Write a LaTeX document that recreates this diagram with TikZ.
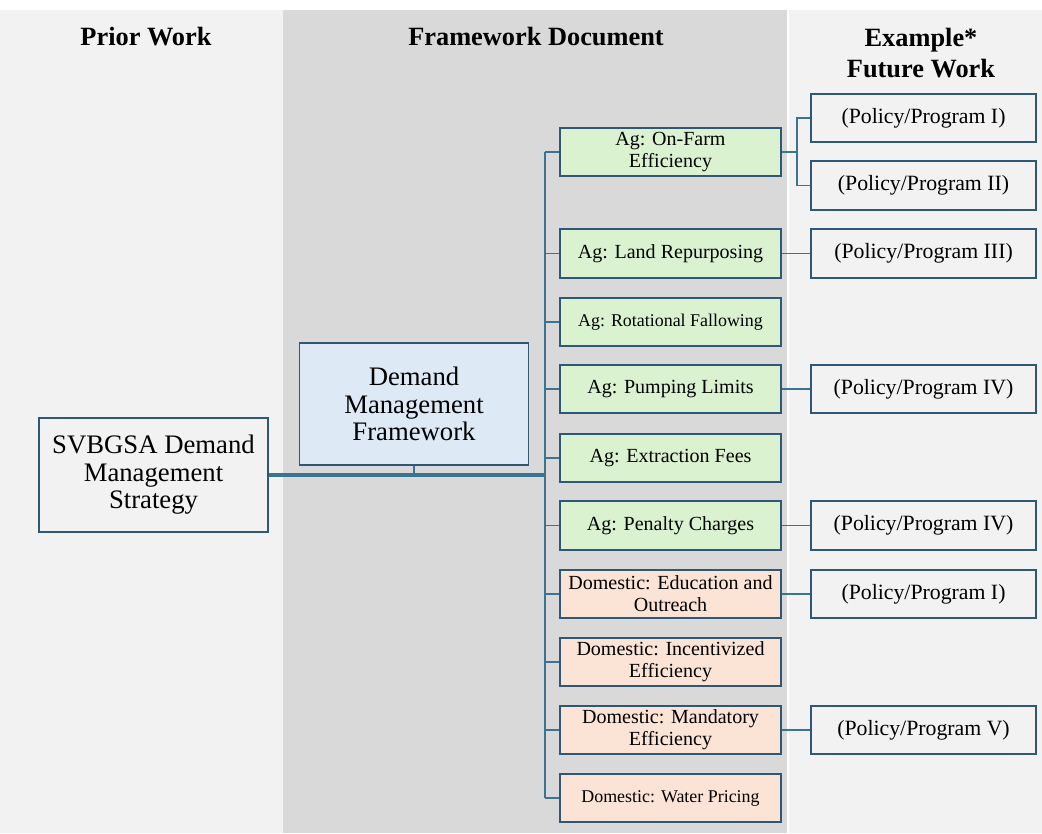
\documentclass[tikz,border=0pt]{standalone}
\usepackage{fontspec}
\setmainfont{Liberation Serif}
\usetikzlibrary{positioning}

\definecolor{panelgray}{HTML}{F2F2F2}
\definecolor{midgray}{HTML}{D9D9D9}
\definecolor{boxline}{HTML}{2F5878}
\definecolor{linkblue}{HTML}{3B7393}
\definecolor{agfill}{HTML}{DAF2D0}
\definecolor{domfill}{HTML}{FBE3D6}
\definecolor{frameblue}{HTML}{DDEAF6}

\tikzset{
  box/.style={draw=boxline, line width=1pt, align=center, inner sep=0pt,
    font=\fontsize{11.4}{12.4}\selectfont},
  agbox/.style={box, fill=agfill, minimum width=4.42cm, minimum height=0.97cm},
  dombox/.style={box, fill=domfill, minimum width=4.42cm, minimum height=0.97cm},
  polbox/.style={box, fill=panelgray, minimum width=4.5cm, minimum height=0.97cm,
    font=\fontsize{12.4}{13}\selectfont},
  bigbox/.style={box, minimum width=4.58cm, font=\fontsize{15.2}{15.6}\selectfont},
  head/.style={align=center, font=\bfseries\fontsize{15}{17.6}\selectfont},
  link/.style={draw=linkblue, line width=1.1pt},
  small/.style={font=\fontsize{10.2}{11}\selectfont}
}

\begin{document}
\begin{tikzpicture}[x=0.02cm, y=-0.02cm]
  \useasboundingbox (0,0) rectangle (1042,833);
  % panels
  \fill [white] (0,0) rectangle (1042,833);
  \fill [panelgray] (0,10) rectangle (283,833);
  \fill [midgray] (283,10) rectangle (788,833);
  \fill [panelgray] (788,10) rectangle (1042,833);
  \draw [white, line width=0.6pt] (788,10) -- (788,833);

  \node [head] (hprior) at (146,37) {Prior Work};
  \node [head] (hframe) at (536,37) {Framework Document};
  \node [head] (hfuture) at (921,53) {Example*\\Future Work};

  % left and centre
  \node [bigbox, fill=panelgray, minimum height=2.28cm] (svb) at (153.5,475) {SVBGSA Demand\\Management\\Strategy};
  \node [bigbox, fill=frameblue, minimum height=2.44cm] (dmf) at (414,404) {Demand\\Management\\Framework};

  % framework options
  \node [agbox] (onfarm) at (670.5,152) {Ag: On-Farm\\Efficiency};
  \node [agbox] (land) at (670.5,253.5) {Ag: Land Repurposing};
  \node [agbox, small] (fallow) at (670.5,322) {Ag: Rotational Fallowing};
  \node [agbox] (pump) at (670.5,389) {Ag: Pumping Limits};
  \node [agbox] (fees) at (670.5,458) {Ag: Extraction Fees};
  \node [agbox] (penalty) at (670.5,525.5) {Ag: Penalty Charges};
  \node [dombox] (educ) at (670.5,594) {Domestic: Education and\\Outreach};
  \node [dombox] (incent) at (670.5,662) {Domestic: Incentivized\\Efficiency};
  \node [dombox] (mandat) at (670.5,730) {Domestic: Mandatory\\Efficiency};
  \node [dombox, small] (pricing) at (670.5,798) {Domestic: Water Pricing};

  % future work
  \node [polbox] (polA) at (923.5,118) {(Policy/Program I)};
  \node [polbox] (polB) at (923.5,185.5) {(Policy/Program II)};
  \node [polbox] (polC) at (923.5,253.5) {(Policy/Program III)};
  \node [polbox] (polD) at (923.5,389) {(Policy/Program IV)};
  \node [polbox] (polE) at (923.5,525.5) {(Policy/Program IV)};
  \node [polbox] (polF) at (923.5,594) {(Policy/Program I)};
  \node [polbox] (polG) at (923.5,730) {(Policy/Program V)};

  % connectors
  \coordinate (bus) at (545,0);
  \coordinate (fork) at (797,0);
  \draw [link, line width=1.8pt] (svb.east) -- (bus |- svb.east);
  \draw [link] (dmf.south) -- (dmf.south |- svb.east);
  \draw [link, line width=1.5pt] (bus |- onfarm.west) -- (bus |- pricing.west);
  \foreach \n in {onfarm,land,fallow,pump,fees,penalty,educ,incent,mandat,pricing}
    \draw [link] (bus |- \n.west) -- (\n.west);
  \draw [link] (onfarm.east) -- (fork |- onfarm.east);
  \draw [link] (polA.west) -| (fork |- onfarm.east) |- (polB.west);
  \draw [link] (land.east) -- (polC.west);
  \draw [link] (pump.east) -- (polD.west);
  \draw [link] (penalty.east) -- (polE.west);
  \draw [link] (educ.east) -- (polF.west);
  \draw [link] (mandat.east) -- (polG.west);
\end{tikzpicture}
\end{document}
